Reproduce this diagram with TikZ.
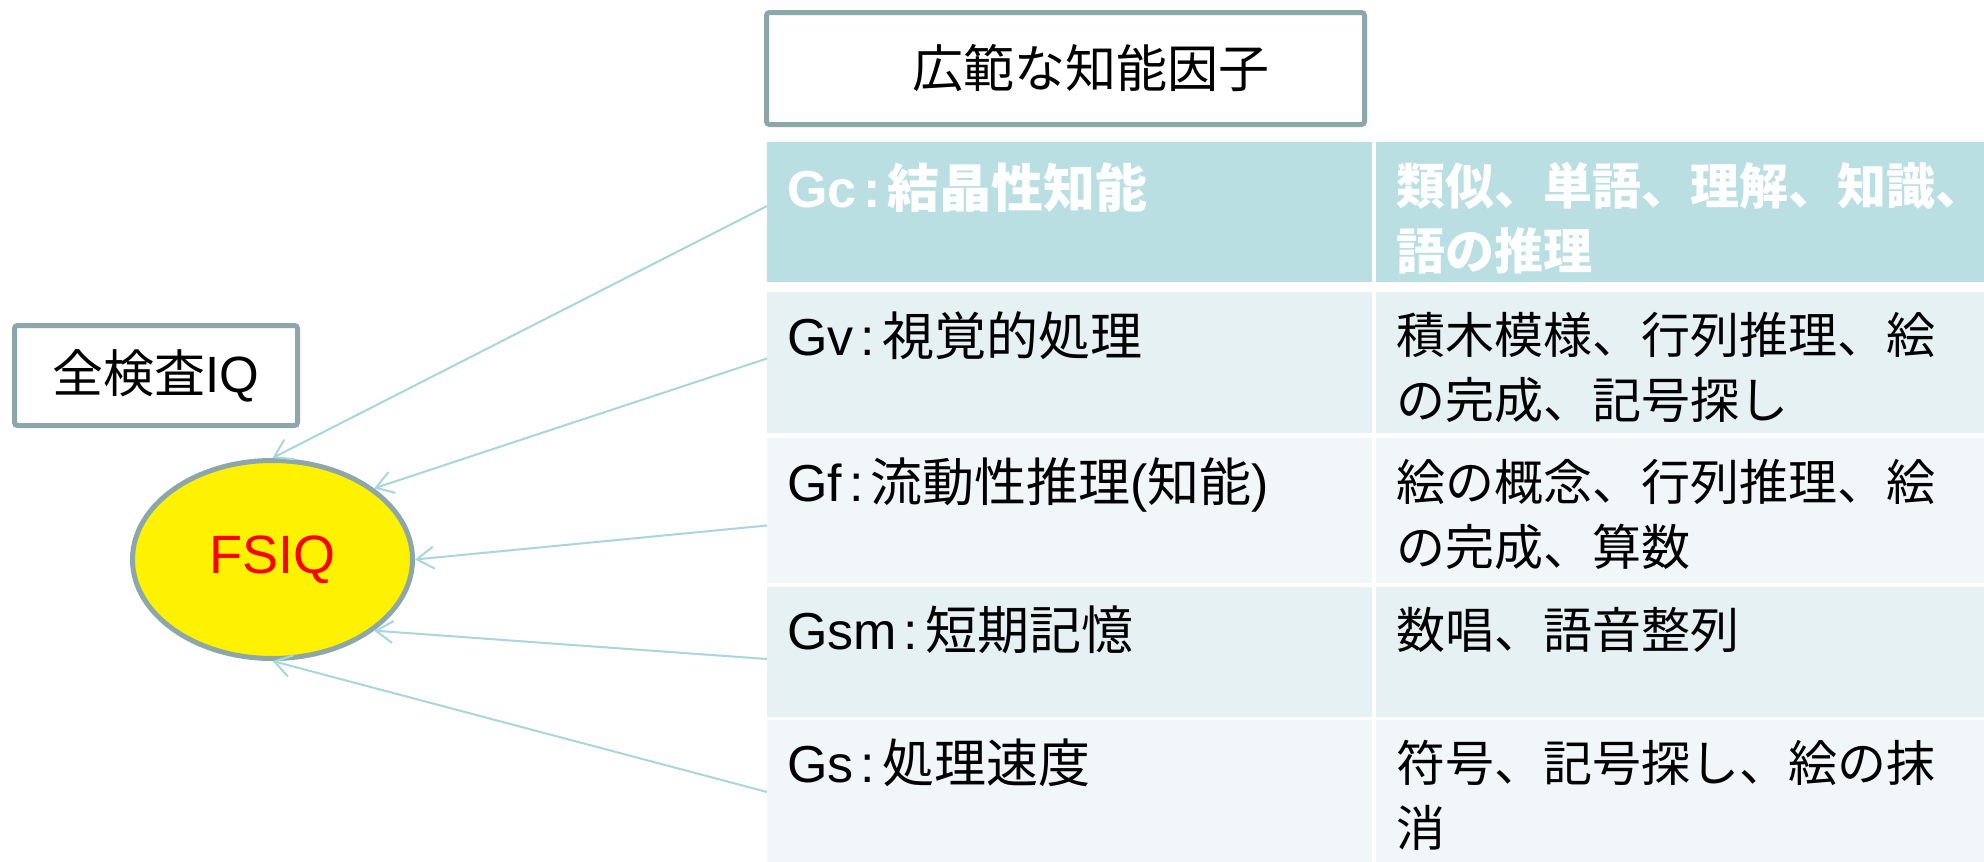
\documentclass[tikz,border=0pt]{standalone}
\usepackage{fontspec}
\setmainfont{Liberation Sans}
\newfontfamily\jp{Noto Sans CJK JP}
\usetikzlibrary{arrows.meta,shapes.geometric}
\definecolor{hdr}{RGB}{186,223,227}
\definecolor{rowA}{RGB}{230,241,243}
\definecolor{rowB}{RGB}{241,247,249}
\definecolor{frame}{RGB}{140,166,169}
\definecolor{arrowc}{RGB}{168,214,219}
\newcommand{\cl}{\kern7pt:\kern7pt}
\begin{document}
\begin{tikzpicture}[x=1pt,y=-1pt,
  cell/.style={anchor=north west, inner sep=0pt, outer sep=0pt, draw=none},
  txt/.style={anchor=north west, inner sep=0pt, align=left, font=\fontsize{52}{65}\selectfont},
  jptxt/.style={txt, font=\fontsize{49}{65}\selectfont\jp},
  hdrtxt/.style={txt, text=white, font=\fontsize{52}{65}\selectfont\bfseries},
  hdrjptxt/.style={txt, text=white, font=\fontsize{49}{65}\selectfont\bfseries\jp},
  frm/.style={draw=frame, line width=5pt, fill=white, rounded corners=3pt, inner sep=0pt, font=\fontsize{51}{60}\selectfont},
  arr/.style={draw=arrowc, line width=2pt, -{Straight Barb[length=17pt,width=22pt]}}
]
\useasboundingbox (0,0) rectangle (1984,862);
\fill[white] (0,0) rectangle (1984,862);

% table cells
\node[cell, fill=hdr,  minimum width=605, minimum height=140] (c1l) at (767,142) {};
\node[cell, fill=hdr,  minimum width=608, minimum height=140] (c1r) at (1376,142) {};
\node[cell, fill=rowA, minimum width=605, minimum height=141] (c2l) at (767,292) {};
\node[cell, fill=rowA, minimum width=608, minimum height=141] (c2r) at (1376,292) {};
\node[cell, fill=rowB, minimum width=605, minimum height=145] (c3l) at (767,438) {};
\node[cell, fill=rowB, minimum width=608, minimum height=145] (c3r) at (1376,438) {};
\node[cell, fill=rowA, minimum width=605, minimum height=130] (c4l) at (767,587) {};
\node[cell, fill=rowA, minimum width=608, minimum height=130] (c4r) at (1376,587) {};
\node[cell, fill=rowB, minimum width=605, minimum height=142] (c5l) at (767,720) {};
\node[cell, fill=rowB, minimum width=608, minimum height=142] (c5r) at (1376,720) {};

% table texts
\node[hdrtxt]   (t1l) at (787,162) {Gc\cl{\jp 結晶性知能}};
\node[hdrjptxt] (t1r) at (1396,162) {類似、単語、理解、知識、\\語の推理};
\node[txt]      (t2l) at (787,311) {Gv\cl{\jp 視覚的処理}};
\node[jptxt]    (t2r) at (1396,312) {積木模様、行列推理、絵\\の完成、記号探し};
\node[txt]      (t3l) at (787,458) {Gf\cl{\jp 流動性推理}({\jp 知能})};
\node[jptxt]    (t3r) at (1396,459) {絵の概念、行列推理、絵\\の完成、算数};
\node[txt]      (t4l) at (787,606) {Gsm\cl{\jp 短期記憶}};
\node[jptxt]    (t4r) at (1396,607) {数唱、語音整列};
\node[txt]      (t5l) at (787,739) {Gs\cl{\jp 処理速度}};
\node[jptxt]    (t5r) at (1396,740) {符号、記号探し、絵の抹\\消};

% boxes
\node[frm, minimum width=598, minimum height=112] (title) at (1065.5,68.5) {\hspace*{51pt}{\jp 広範な知能因子}};
\node[frm, minimum width=283, minimum height=100] (fiq) at (156,375.5) {{\jp 全検査}IQ};
\node[ellipse, draw=frame, line width=5pt, fill=yellow, minimum width=280, minimum height=198,
      inner sep=0pt, text=red, font=\fontsize{54}{60}\selectfont] (fsiq) at (272.5,559.5) {FSIQ};

% arrows
\draw[arr] ([yshift=6pt]c1l.west) -- (fsiq.north);
\draw[arr] ([yshift=4pt]c2l.west) -- (fsiq.35);
\draw[arr] ([yshift=-15pt]c3l.west) -- (fsiq.east);
\draw[arr] ([yshift=-7pt]c4l.west) -- (fsiq.-35);
\draw[arr] ([yshift=-1pt]c5l.west) -- (fsiq.south);
\end{tikzpicture}
\end{document}
